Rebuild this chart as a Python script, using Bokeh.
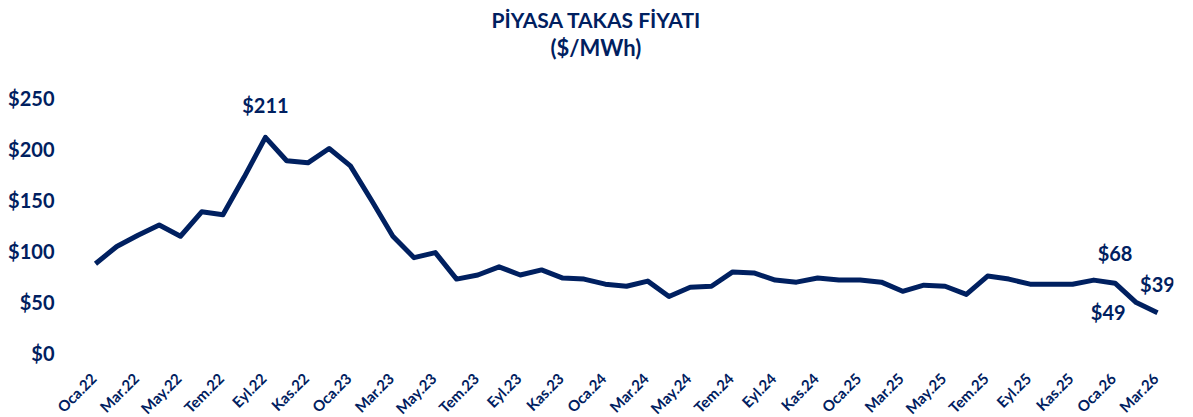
from bokeh.plotting import figure
from bokeh.models import Range1d, FixedTicker, Title, NumeralTickFormatter, LabelSet, ColumnDataSource
from bokeh.embed import file_html
from bokeh.resources import INLINE
from bokeh.core.properties import value
import math

months = ["Oca", "Şub", "Mar", "Nis", "May", "Haz", "Tem", "Ağu", "Eyl", "Eki", "Kas", "Ara"]
categories = []
for yy in range(22, 27):
    for m in months:
        categories.append(f"{m}.{yy}")
categories = categories[:51]  # Oca.22 .. Mar.26

prices = [87, 104, 115, 125, 114, 138, 135, 172, 211, 188, 186, 200,
          183, 149, 114, 93, 98, 72, 76, 84, 76, 81, 73, 72,
          67, 65, 70, 55, 64, 65, 79, 78, 71, 69, 73, 71,
          71, 69, 60, 66, 65, 57, 75, 72, 67, 67, 67, 71,
          68, 49, 39]

y_ticks = [0, 50, 100, 150, 200, 250]
annotated = [8, 48, 49, 50]
annot_offsets = {8: (0, -32), 48: (0, -30), 49: (-28, 9), 50: (0, -29)}

NAVY = "#002060"
FONT = "Lato"

xs = list(range(len(prices)))

p = figure(width=1193, height=417, output_backend="svg", toolbar_location=None,
           x_range=Range1d(-2.354, 50.753), y_range=Range1d(-63.7, 286.3),
           min_border_left=45, min_border_right=20, min_border_top=60, min_border_bottom=0)

p.add_layout(Title(text="($/MWh)", align="left", offset=505,
                   text_font=FONT, text_font_size="22px", text_font_style="bold",
                   text_color=NAVY, standoff=0), "above")
p.add_layout(Title(text="PİYASA TAKAS FİYATI", align="left", offset=446,
                   text_font=FONT, text_font_size="21px", text_font_style="bold",
                   text_color=NAVY, standoff=0), "above")

p.line(xs, prices, line_color=NAVY, line_width=5, line_join="round")

for i in annotated:
    dx, dy = annot_offsets[i]
    p.text(x=[i], y=[prices[i]], text=[f"${prices[i]}"], x_offset=dx, y_offset=dy,
           text_font=value(FONT), text_font_size="20px", text_font_style="bold",
           text_color=NAVY, text_align="center", text_baseline="middle")

tick_idx = list(range(0, 51, 2))
xlab = ColumnDataSource(dict(x=tick_idx, y=[0] * len(tick_idx),
                             t=[categories[i] for i in tick_idx]))
p.add_layout(LabelSet(x="x", y="y", text="t", source=xlab, angle=math.pi / 4,
                      x_offset=-2, y_offset=-23, text_align="right", text_baseline="middle",
                      text_font=value(FONT), text_font_size="15px", text_font_style="bold",
                      text_color=NAVY))

p.xaxis.visible = False
p.yaxis.ticker = FixedTicker(ticks=y_ticks)
p.yaxis.formatter = NumeralTickFormatter(format="$0")
p.yaxis.axis_line_color = None
p.yaxis.major_tick_line_color = None
p.yaxis.minor_tick_line_color = None
p.yaxis.major_tick_out = 0
p.yaxis.minor_tick_out = 0
p.yaxis.major_label_text_color = NAVY
p.yaxis.major_label_text_font = FONT
p.yaxis.major_label_text_font_style = "bold"
p.yaxis.major_label_text_font_size = "20px"
p.yaxis.major_label_standoff = -9

p.xgrid.grid_line_color = None
p.ygrid.grid_line_color = None
p.outline_line_color = None

open("out.html", "w").write(file_html(p, INLINE))
